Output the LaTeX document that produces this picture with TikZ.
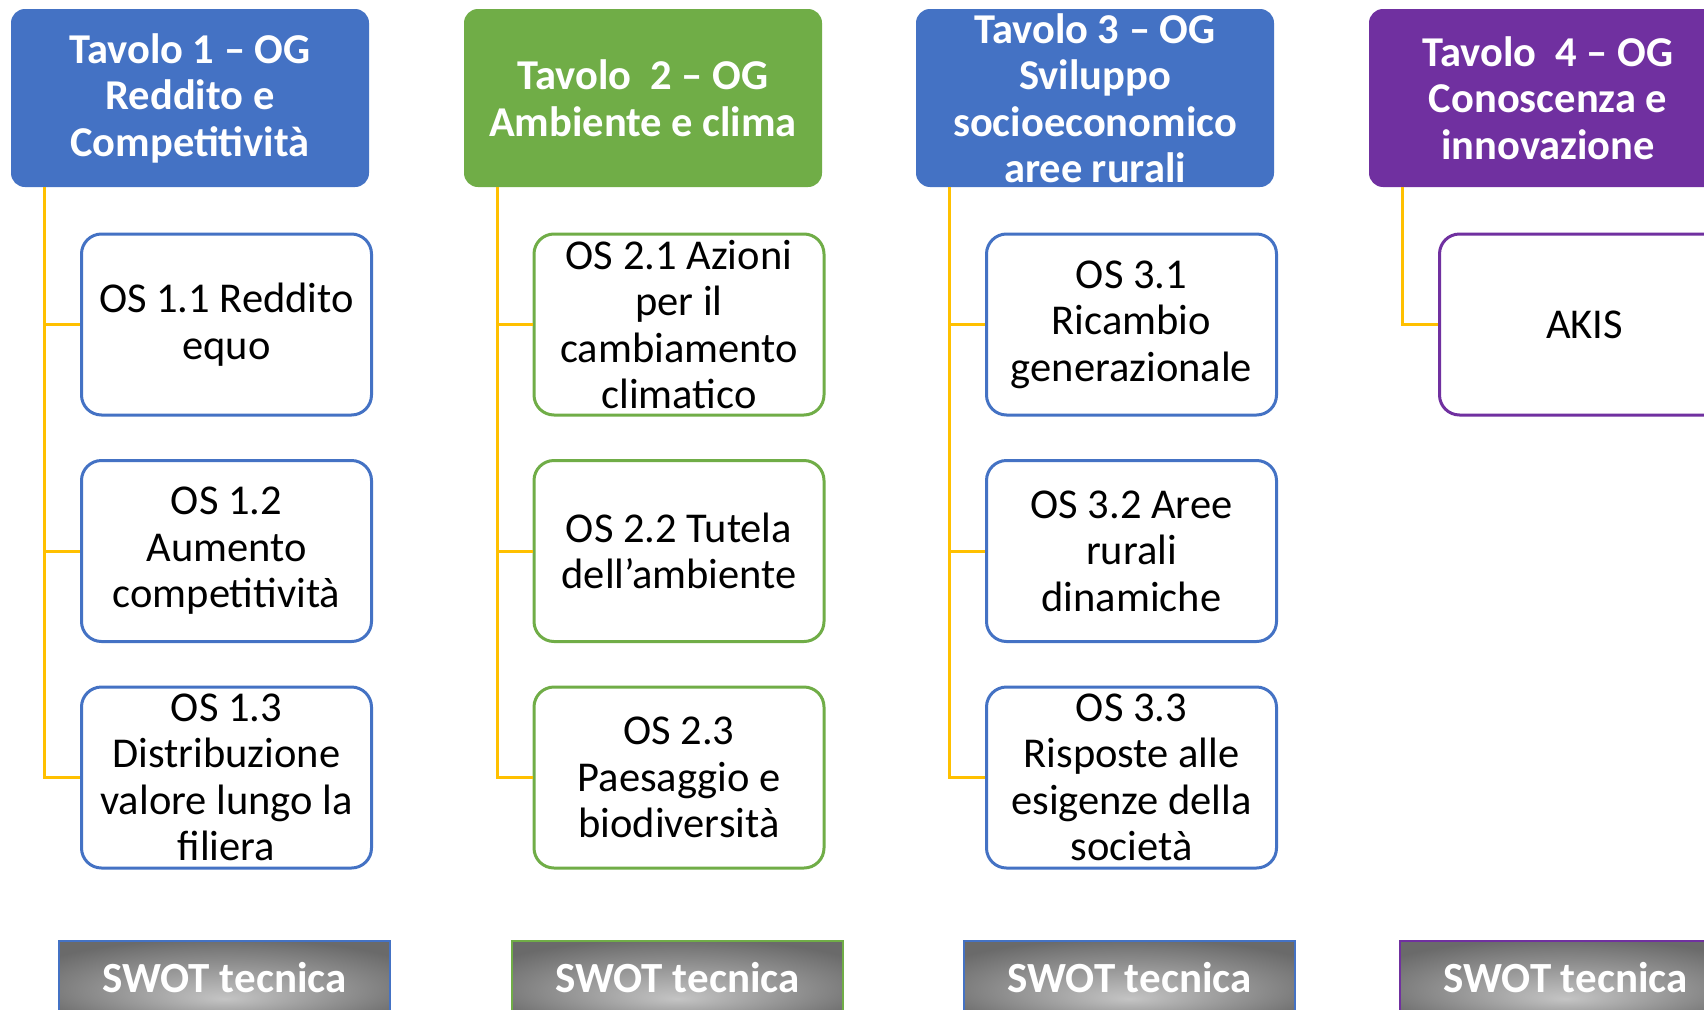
\documentclass[tikz,border=0pt]{standalone}
\usepackage{fontspec}
\setmainfont{Carlito}
\definecolor{cblue}{HTML}{4472C4}
\definecolor{cgreen}{HTML}{70AD47}
\definecolor{cpurple}{HTML}{7030A0}
\definecolor{cyellow}{HTML}{FFC000}
\definecolor{swotdark}{HTML}{6A6A6A}
\definecolor{swotlight}{HTML}{C4C4C4}
\pgfdeclareradialshading{swotshade}{\pgfpoint{0bp}{-14bp}}{color(0bp)=(swotlight); color(32bp)=(swotdark); color(50bp)=(swotdark)}
\begin{document}
\begin{tikzpicture}[x=1pt,y=-1pt,
 hdr/.style={rounded corners=14pt, minimum width=358pt, minimum height=178pt, inner sep=0pt, text=white, font=\bfseries\fontsize{42.5}{46.5}\selectfont, align=center},
 osbox/.style={draw, line width=3pt, rounded corners=20pt, fill=white, minimum width=290pt, minimum height=181pt, inner sep=0pt, align=center, font=\fontsize{42.5}{46.5}\selectfont},
 swot/.style={draw, line width=1.2pt, shading=swotshade, minimum width=331pt, minimum height=74pt, inner sep=0pt, text=white, font=\bfseries\fontsize{43}{50}\selectfont},
 conn/.style={draw=cyellow, line width=3pt}]
\useasboundingbox (0,0) rectangle (1704,1009);
\clip (0,0) rectangle (1704,1009);
\fill[white] (0,0) rectangle (1704,1009);

% headers
\node[hdr, fill=cblue]   (h1) at (190,98)  {Tavolo 1 – OG\\Reddito e\\Competitività};
\node[hdr, fill=cgreen]  (h2) at (643,98)  {Tavolo~~2 – OG\\Ambiente e clima};
\node[hdr, fill=cblue]   (h3) at (1095,98) {Tavolo 3 – OG\\Sviluppo\\socioeconomico\\aree rurali};
\node[hdr, fill=cpurple] (h4) at (1548,98) {Tavolo~~4 – OG\\Conoscenza e\\innovazione};

% column 1
\node[osbox, draw=cblue] (b11) at (226.5,324.5) {OS 1.1 Reddito\\equo};
\node[osbox, draw=cblue] (b12) at (226.5,551) {OS 1.2\\Aumento\\competitività};
\node[osbox, draw=cblue] (b13) at (226.5,777.5) {OS 1.3\\Distribuzione\\valore lungo la\\filiera};
% column 2
\node[osbox, draw=cgreen] (b21) at (679,324.5) {OS 2.1 Azioni\\per il\\cambiamento\\climatico};
\node[osbox, draw=cgreen] (b22) at (679,551) {OS 2.2 Tutela\\dell’ambiente};
\node[osbox, draw=cgreen] (b23) at (679,777.5) {OS 2.3\\Paesaggio e\\biodiversità};
% column 3
\node[osbox, draw=cblue] (b31) at (1131.5,324.5) {OS 3.1\\Ricambio\\generazionale};
\node[osbox, draw=cblue] (b32) at (1131.5,551) {OS 3.2 Aree\\rurali\\dinamiche};
\node[osbox, draw=cblue] (b33) at (1131.5,777.5) {OS 3.3\\Risposte alle\\esigenze della\\società};
% column 4
\node[osbox, draw=cpurple] (b41) at (1584.5,324.5) {AKIS};

% connectors
\foreach \h/\b in {h1/b11,h1/b12,h1/b13,h2/b21,h2/b22,h2/b23,h3/b31,h3/b32,h3/b33,h4/b41}
  \draw[conn] ([xshift=34pt]\h.south west) |- (\b.west);

% SWOT boxes
\node[swot, draw=cblue]   (s1) at (224.5,978)  {SWOT tecnica};
\node[swot, draw=cgreen]  (s2) at (677.5,978)  {SWOT tecnica};
\node[swot, draw=cblue]   (s3) at (1129.5,978) {SWOT tecnica};
\node[swot, draw=cpurple] (s4) at (1565.5,978) {SWOT tecnica};
\end{tikzpicture}
\end{document}
